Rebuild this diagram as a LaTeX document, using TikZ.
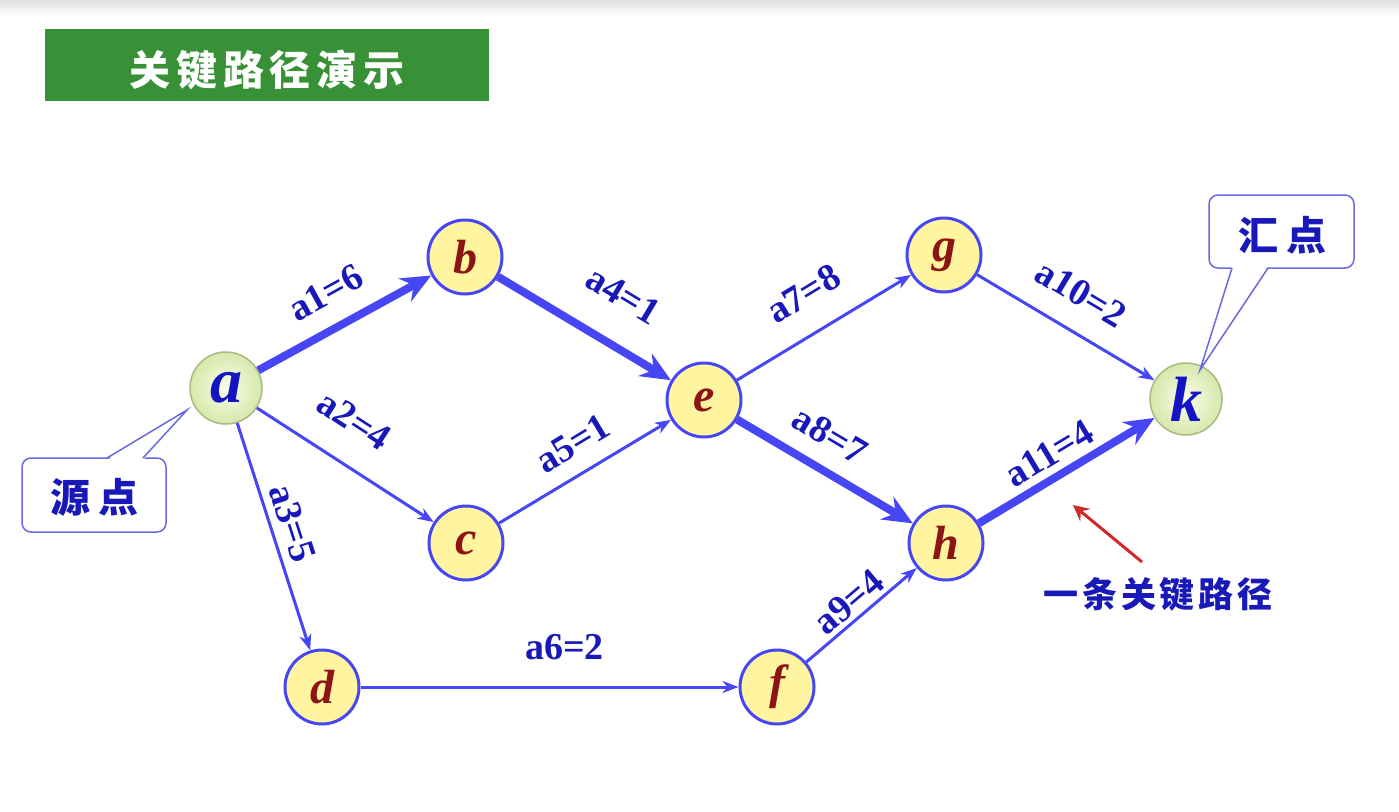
\documentclass[tikz,border=0pt]{standalone}
\usepackage{fontspec}
\usetikzlibrary{arrows.meta}
\newfontfamily\lser{Liberation Serif}
\newfontfamily\cjk{Noto Sans CJK SC}
\definecolor{edgeblue}{RGB}{70,70,245}
\definecolor{labelblue}{RGB}{25,25,185}
\definecolor{nodeyellow}{RGB}{255,245,160}
\definecolor{letterred}{RGB}{140,20,20}
\definecolor{letterblue}{RGB}{20,20,195}
\definecolor{titlegreen}{RGB}{56,145,54}
\definecolor{calloutline}{RGB}{105,105,225}
\definecolor{arrowred}{RGB}{210,40,40}
\definecolor{endfillin}{RGB}{250,253,235}
\definecolor{endfillout}{RGB}{214,232,170}
\definecolor{endline}{RGB}{170,185,130}
\begin{document}
\begin{tikzpicture}[x=1pt,y=-1pt,
  vnode/.style={circle,draw=edgeblue,line width=3pt,fill=nodeyellow,minimum size=74pt,inner sep=0pt,
    text=letterred,font=\lser\bfseries\itshape\fontsize{48}{48}\selectfont},
  endnode/.style={circle,draw=endline,line width=1.5pt,inner color=endfillin,outer color=endfillout,
    minimum size=72pt,inner sep=0pt,text=letterblue,font=\lser\bfseries\itshape\fontsize{64}{64}\selectfont},
  thinedge/.style={draw=edgeblue,line width=3pt,-{Stealth[length=16pt,width=12pt,inset=5pt]}},
  thickedge/.style={draw=edgeblue,line width=8pt,-{Stealth[length=30pt,width=26pt,inset=10pt]}},
  elabel/.style={sloped,inner sep=0pt,text=labelblue,font=\lser\bfseries\fontsize{38}{38}\selectfont},
  callout/.style={draw=calloutline,line width=1.5pt,fill=white},
  cjktext/.style={inner sep=0pt,anchor=base,text=labelblue,font=\cjk\bfseries\fontsize{40}{40}\selectfont}
]
\useasboundingbox (0,0) rectangle (1399,811);
\fill[white] (0,0) rectangle (1399,811);
\shade[top color=black!12,bottom color=white] (0,0) rectangle (1399,16);

% title
\node[fill=titlegreen,minimum width=444pt,minimum height=72pt,inner sep=0pt] (titlebox) at (266.5,65) {};
\node[inner sep=0pt,anchor=base,text=white,font=\cjk\bfseries\fontsize{41}{41}\selectfont\addfontfeature{LetterSpace=14}] (titletext) at (267,85) {关键路径演示};

% nodes
\node[endnode] (a) at (226,388) {a};
\node[vnode] (b) at (465,257) {b};
\node[vnode] (c) at (466,543) {c};
\node[vnode] (d) at (322,687) {d};
\node[vnode] (e) at (704,400) {e};
\node[vnode] (f) at (777,687) {f};
\node[vnode] (g) at (944,255) {g};
\node[vnode] (h) at (946,543) {h};
\node[endnode] (k) at (1186,399) {k};

% edges
\draw[thickedge] (a) -- (b) node[elabel,pos=0.49,above=19pt] (l1) {a1=6};
\draw[thinedge] (a) -- (c) node[elabel,pos=0.42,above=28pt] (l2) {a2=4};
\draw[thinedge] (a) -- (d) node[elabel,pos=0.47,above=8pt] (l3) {a3=5};
\draw[thickedge] (b) -- (e) node[elabel,pos=0.58,above=32pt] (l4) {a4=1};
\draw[thinedge] (c) -- (e) node[elabel,pos=0.52,above=16pt] (l5) {a5=1};
\draw[thinedge] (d) -- (f) node[elabel,pos=0.54,above=26pt] (l6) {a6=2};
\draw[thinedge] (e) -- (g) node[elabel,pos=0.50,above=25pt] (l7) {a7=8};
\draw[thickedge] (e) -- (h) node[elabel,pos=0.43,above=17pt] (l8) {a8=7};
\draw[thinedge] (f) -- (h) node[elabel,pos=0.49,above=4pt] (l9) {a9=4};
\draw[thinedge] (g) -- (k) node[elabel,pos=0.48,above=23pt] (l10) {a10=2};
\draw[thickedge] (h) -- (k) node[elabel,pos=0.47,above=7pt] (l11) {a11=4};

% callout: source
\draw[callout,rounded corners=9pt] (22,458) rectangle (166,532);
\fill[white] (107,460) -- (187,410) -- (143,460) -- cycle;
\draw[calloutline,line width=1.5pt,line join=miter] (107,458) -- (187,410) -- (143,458);
\node[cjktext] (srclabel) at (94,512) {源\hspace{8pt}点};

% callout: sink
\draw[callout,rounded corners=9pt] (1209,195) rectangle (1354,268);
\fill[white] (1232,266) -- (1200,370) -- (1268,266) -- cycle;
\draw[calloutline,line width=1.5pt,line join=miter] (1232,268) -- (1200,370) -- (1268,268);
\node[cjktext] (snklabel) at (1282,250) {汇\hspace{8pt}点};

% critical path annotation
\node[cjktext,font=\cjk\bfseries\fontsize{35}{35}\selectfont\addfontfeature{LetterSpace=11}] (crit) at (1158,607) {一条关键路径};
\coordinate (rtail) at (1142,562);
\coordinate (rtip) at (1073,505);
\draw[arrowred,line width=3pt,-{Stealth[length=16pt,width=16pt,inset=6pt]}] (rtail) -- (rtip);
\end{tikzpicture}
\end{document}
